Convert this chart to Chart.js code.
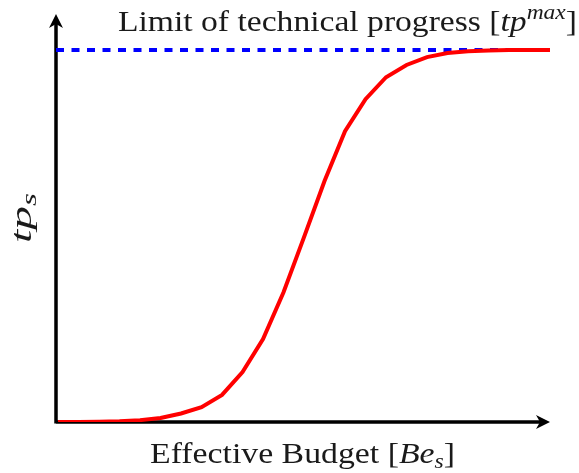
<!DOCTYPE html>
<html>
<head>
    <title>Technical progress S-curve</title>
    <script src="https://cdn.jsdelivr.net/npm/chart.js"></script>
    <style>
        body { margin: 0; background: #fff; }
        #wrap { width: 579px; height: 473px; }
    </style>
</head>
<body>
    <div id="wrap">
        <canvas id="tp-chart"></canvas>
    </div>

    <script>
        // Budget steps along the x axis (no tick labels shown in the figure)
        const budgetSteps = [0, 1, 2, 3, 4, 5, 6, 7, 8, 9, 10, 11, 12, 13, 14, 15, 16, 17, 18, 19, 20, 21, 22, 23, 24];
        // Technical progress, as a share of tp max
        const progressValues = [0.000, 0.000, 0.001, 0.002, 0.005, 0.011, 0.023, 0.040, 0.073, 0.134, 0.223, 0.349, 0.497,
                                0.648, 0.782, 0.868, 0.927, 0.960, 0.981, 0.992, 0.997, 0.999, 1.000, 1.000, 1.000];
        // Limit line
        const tpMax = 1.0;
        const limitSteps = [-0.1, 24];

        // Text pieces: [text, italic, position]  position: 0 normal, 1 superscript, -1 subscript
        const titleParts = [['Limit of technical progress [', false, 0], ['tp', true, 0], ['max', true, 1], [']', false, 0]];
        const xLabelParts = [['Effective Budget [', false, 0], ['Be', true, 0], ['s', true, -1], [']', false, 0]];
        const yLabelParts = [['tp', true, 0], ['s', true, -1]];

        const FONT = '"Liberation Serif", "DejaVu Serif", serif';

        function partFont(italic, pos, size) {
            const s = pos === 0 ? size : size * 0.7;
            return (italic ? 'italic ' : '') + s + 'px ' + FONT;
        }

        function partsWidth(ctx, parts, size) {
            let w = 0;
            for (const p of parts) {
                ctx.font = partFont(p[1], p[2], size);
                w += ctx.measureText(p[0]).width;
            }
            return w;
        }

        // draws the pieces from x to x + width, stretched sideways to fill it
        function drawParts(ctx, parts, x, y, size, width) {
            const natural = partsWidth(ctx, parts, size);
            const sx = width ? width / natural : 1;
            ctx.save();
            ctx.translate(x, y);
            ctx.scale(sx, 1);
            let cx = 0;
            ctx.textBaseline = 'alphabetic';
            ctx.textAlign = 'left';
            for (const p of parts) {
                ctx.font = partFont(p[1], p[2], size);
                let dy = 0;
                if (p[2] === 1) dy = -size * 0.4;
                if (p[2] === -1) dy = size * 0.15;
                ctx.fillText(p[0], cx, dy);
                cx += ctx.measureText(p[0]).width;
            }
            ctx.restore();
        }

        // Axes with arrow heads, drawn under the curves
        const axesPlugin = {
            id: 'axesArrows',
            beforeDatasetsDraw(chart) {
                const ctx = chart.ctx;
                const a = chart.chartArea;
                const x0 = chart.scales.x.getPixelForValue(-0.1);
                const y0 = chart.scales.y.getPixelForValue(0);
                ctx.save();
                ctx.strokeStyle = '#000';
                ctx.fillStyle = '#000';
                ctx.lineWidth = 3.5;
                ctx.beginPath();
                ctx.moveTo(x0, y0 + 1.5);
                ctx.lineTo(x0, a.top + 8);
                ctx.moveTo(x0, y0);
                ctx.lineTo(a.right - 8, y0);
                ctx.stroke();
                // up arrow
                ctx.beginPath();
                ctx.moveTo(x0, a.top);
                ctx.lineTo(x0 - 7, a.top + 14);
                ctx.lineTo(x0, a.top + 10);
                ctx.lineTo(x0 + 7, a.top + 14);
                ctx.closePath();
                ctx.fill();
                // right arrow
                ctx.beginPath();
                ctx.moveTo(a.right, y0);
                ctx.lineTo(a.right - 14, y0 - 7);
                ctx.lineTo(a.right - 10, y0);
                ctx.lineTo(a.right - 14, y0 + 7);
                ctx.closePath();
                ctx.fill();
                ctx.restore();
            },
            afterDraw(chart) {
                const ctx = chart.ctx;
                ctx.save();
                ctx.fillStyle = '#1a1a1a';
                // title above the limit line
                drawParts(ctx, titleParts, 118, 31, 30, 459);
                // x label
                drawParts(ctx, xLabelParts, 150, 463, 30, 305);
                // y label, rotated
                ctx.translate(31, 243);
                ctx.rotate(-Math.PI / 2);
                drawParts(ctx, yLabelParts, 0, 0, 30, 50);
                ctx.restore();
            }
        };

        function renderChart() {
            const ctx = document.getElementById('tp-chart').getContext('2d');

            const curve = budgetSteps.map((b, i) => ({ x: b, y: progressValues[i] }));
            const limit = limitSteps.map(b => ({ x: b, y: tpMax }));

            new Chart(ctx, {
                type: 'line',
                data: {
                    datasets: [
                        {
                            label: 'tp_s',
                            data: curve,
                            borderColor: '#ff0000',
                            borderWidth: 4,
                            pointRadius: 0,
                            tension: 0,
                            fill: false
                        },
                        {
                            label: 'tp max',
                            data: limit,
                            borderColor: '#0000ff',
                            borderWidth: 4,
                            borderDash: [8, 7.5],
                            borderCapStyle: 'butt',
                            pointRadius: 0,
                            fill: false
                        }
                    ]
                },
                options: {
                    responsive: true,
                    maintainAspectRatio: false,
                    animation: false,
                    layout: { padding: { left: 56, right: 29, top: 14, bottom: 51 } },
                    plugins: {
                        legend: { display: false },
                        tooltip: { enabled: false }
                    },
                    scales: {
                        x: { type: 'linear', min: -0.1, max: 24, display: false },
                        y: { min: 0, max: 1.097, display: false }
                    }
                },
                plugins: [axesPlugin]
            });
        }

        renderChart();
    </script>
</body>
</html>
